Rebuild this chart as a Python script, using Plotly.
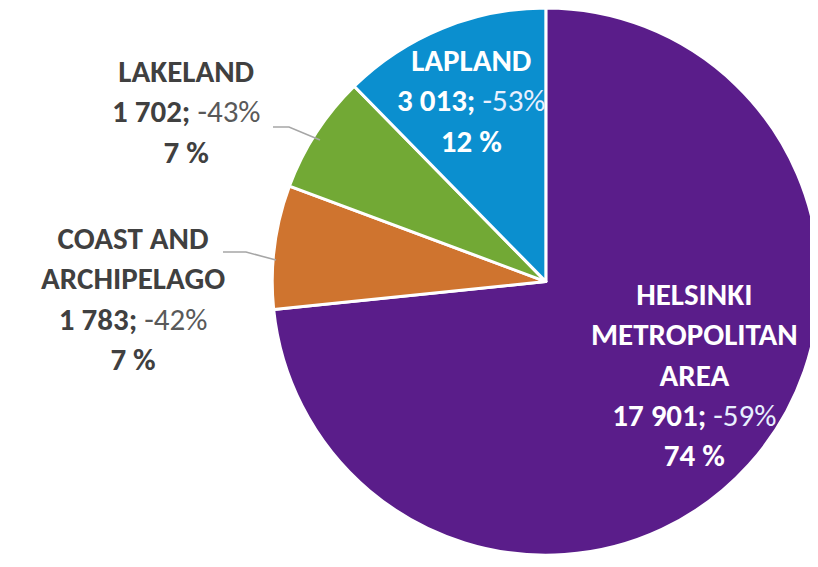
import plotly.graph_objects as go

regions = ["HELSINKI METROPOLITAN AREA", "COAST AND ARCHIPELAGO", "LAKELAND", "LAPLAND"]
nights = [17901, 1783, 1702, 3013]
changes = ["-59%", "-42%", "-43%", "-53%"]
shares = ["74 %", "7 %", "7 %", "12 %"]
colors = ["#5a1d8a", "#cf742f", "#72a935", "#0b8fcf"]

W, H = 818, 567
font = "Carlito, Lato, sans-serif"


def fmt(n):
    return f"{n:,}".replace(",", " ")


def label(name_lines, n, ch, sh, dark):
    main = "#404040" if dark else "white"
    soft = "#595959" if dark else "#e8f0ff"
    name = "<br>".join(f"<b>{l}</b>" for l in name_lines)
    return (f"<span style='color:{main}'>{name}<br><b>{fmt(n)};</b> </span>"
            f"<span style='color:{soft}'>{ch}</span>"
            f"<span style='color:{main}'><br><b>{sh}</b></span>")


fig = go.Figure(go.Pie(
    labels=regions,
    values=nights,
    sort=False,
    direction="clockwise",
    rotation=0,
    marker=dict(colors=colors, line=dict(color="white", width=3)),
    textinfo="none",
    hoverinfo="label+value+percent",
    domain=dict(x=[0.315, 1.0], y=[0.035, 1.0]),
))

# label blocks: (lines of name, centre px x, centre px y, dark text?)
blocks = [
    (["HELSINKI", "METROPOLITAN", "AREA"], 686, 366, False),
    (["COAST AND", "ARCHIPELAGO"], 125, 290, True),
    (["LAKELAND"], 178, 103, True),
    (["LAPLAND"], 463, 92, False),
]
for i, (lines, px, py, dark) in enumerate(blocks):
    fig.add_annotation(
        x=px / W, y=1 - py / H, xref="paper", yref="paper",
        text=label(lines, nights[i], changes[i], shares[i], dark),
        showarrow=False, align="center", xanchor="center", yanchor="middle",
        font=dict(family=font, size=31),
    )

# leader lines for the outside labels
for pts in [[(265, 119), (281, 119), (312, 132)], [(215, 244), (238, 244), (268, 252)]]:
    path = "M " + " L ".join(f"{x / W},{1 - y / H}" for x, y in pts)
    fig.add_shape(type="path", path=path, xref="paper", yref="paper",
                  line=dict(color="#a6a6a6", width=1.5))

fig.update_layout(
    width=W, height=H,
    margin=dict(l=0, r=0, t=0, b=0),
    showlegend=False,
    paper_bgcolor="white",
    plot_bgcolor="white",
)

fig.write_html("out.html")
